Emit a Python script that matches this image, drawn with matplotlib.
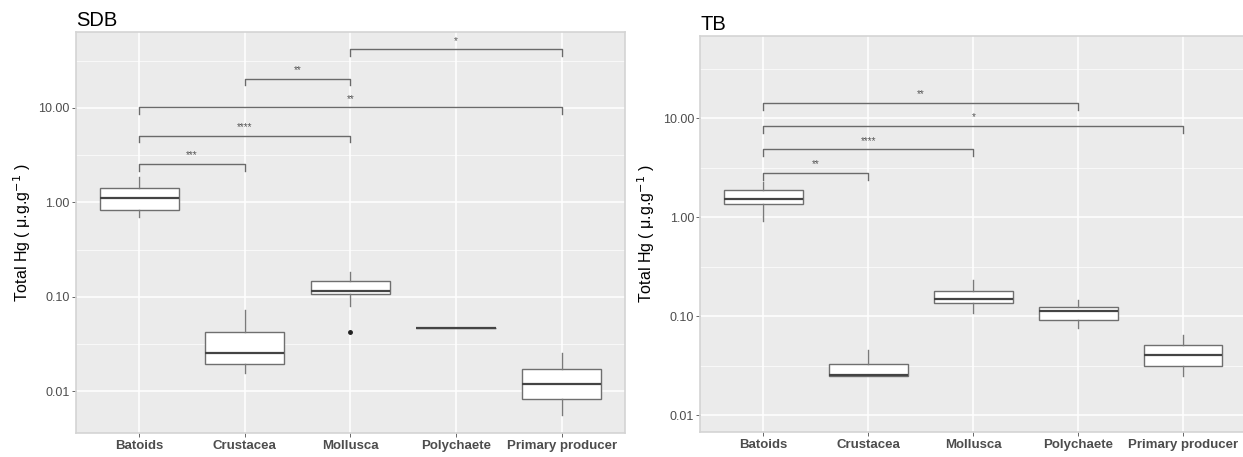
import numpy as np
import matplotlib
matplotlib.use("Agg")
from matplotlib import pyplot as plt
from matplotlib.ticker import FixedLocator, FormatStrFormatter

plt.rcParams['font.family'] = ['Liberation Sans', 'DejaVu Sans']

categories = ["Batoids", "Crustacea", "Mollusca", "Polychaete", "Primary producer"]

# SDB panel, box stats (ug/g)
sdb_whislo = [0.70, 0.0157, 0.080, 0.0466, 0.0056]
sdb_q1 = [0.83, 0.0195, 0.106, 0.0466, 0.0083]
sdb_med = [1.12, 0.0254, 0.114, 0.0466, 0.0120]
sdb_q3 = [1.42, 0.042, 0.147, 0.0466, 0.0172]
sdb_whishi = [1.85, 0.0723, 0.183, 0.0466, 0.0253]
sdb_fliers = [[], [], [0.0426], [], []]
sdb_pairs = [(0, 1), (0, 2), (0, 4), (1, 2), (2, 4)]
sdb_bracket_y = [2.55, 5.09, 10.2, 20.4, 41.9]
sdb_labels = ["***", "****", "**", "**", "*"]

# TB panel
tb_whislo = [0.918, 0.0249, 0.108, 0.0769, 0.0252]
tb_q1 = [1.35, 0.0249, 0.135, 0.0926, 0.0318]
tb_med = [1.545, 0.0253, 0.150, 0.112, 0.0407]
tb_q3 = [1.905, 0.0333, 0.179, 0.124, 0.0518]
tb_whishi = [2.27, 0.0454, 0.235, 0.145, 0.0653]
tb_fliers = [[], [], [], [], []]
tb_pairs = [(0, 1), (0, 2), (0, 4), (0, 3)]
tb_bracket_y = [2.82, 4.87, 8.41, 14.3]
tb_labels = ["**", "****", "*", "**"]

yticks = [0.01, 0.1, 1, 10]


def draw_panel(ax, title, lo, q1, med, q3, hi, fliers, pairs, br_y, br_lab, ylim, xmax):
    ax.set_facecolor('#EBEBEB')
    stats = []
    for i in range(len(categories)):
        stats.append(dict(whislo=lo[i], q1=q1[i], med=med[i], q3=q3[i],
                          whishi=hi[i], fliers=fliers[i]))
    pos = np.arange(1, len(categories) + 1)
    ax.bxp(stats, positions=pos, widths=0.75, showcaps=False, patch_artist=True,
           boxprops=dict(facecolor='white', edgecolor='#6f6f6f', linewidth=1.0),
           whiskerprops=dict(color='#7a7a7a', linewidth=1.0),
           medianprops=dict(color='#444444', linewidth=1.6),
           flierprops=dict(marker='o', markersize=2.5, markerfacecolor='#222222',
                           markeredgecolor='#222222'),
           zorder=3)
    ax.set_yscale('log')
    ax.set_ylim(*ylim)
    ax.set_xlim(0.4, xmax)
    ax.yaxis.set_major_locator(FixedLocator(yticks))
    ax.yaxis.set_major_formatter(FormatStrFormatter('%.2f'))
    ax.yaxis.set_minor_locator(FixedLocator([10 ** (k + 0.5) for k in range(-4, 3)]))
    ax.set_xticks(pos)
    ax.set_xticklabels(categories, fontweight='bold', color='#4D4D4D', fontsize=9.5)
    ax.tick_params(axis='y', labelsize=9, labelcolor='#4D4D4D', color='#4D4D4D',
                   length=3, width=0.6, pad=1.5)
    ax.tick_params(axis='x', color='#4D4D4D', length=3, width=0.6, pad=2)
    ax.tick_params(which='minor', length=0)
    ax.grid(True, which='major', color='white', linewidth=1.1, zorder=0)
    ax.grid(True, which='minor', axis='y', color='white', linewidth=0.5, zorder=0)
    ax.set_axisbelow(True)
    for s in ax.spines.values():
        s.set_color('#D4D4D4')
        s.set_linewidth(1.2)

    # significance brackets
    tip = 10 ** 0.07
    for (a, b), y, lab in zip(pairs, br_y, br_lab):
        xa, xb = pos[a], pos[b]
        ax.plot([xa, xa, xb, xb], [y / tip, y, y, y / tip], color='#6a6a6a',
                linewidth=1.0, zorder=4)
        ax.annotate(lab, xy=((xa + xb) / 2, y), xytext=(0, 2.5), textcoords='offset points',
                    ha='center', va='bottom', fontsize=7, color='#555555')

    ax.set_ylabel('Total Hg ( μ.g.g$^{-1}$ )', fontsize=11.5, color='black', labelpad=4)
    ax.set_title(title, loc='left', fontsize=14.5, pad=4)


fig = plt.figure(figsize=(12.43, 4.57), dpi=100)
ax1 = fig.add_axes([0.0611, 0.0525, 0.4417, 0.8775])
ax2 = fig.add_axes([0.5635, 0.0547, 0.4390, 0.8672])

draw_panel(ax1, "SDB", sdb_whislo, sdb_q1, sdb_med, sdb_q3, sdb_whishi, sdb_fliers,
           sdb_pairs, sdb_bracket_y, sdb_labels, (0.0036, 63.8), 5.6)
draw_panel(ax2, "TB", tb_whislo, tb_q1, tb_med, tb_q3, tb_whishi, tb_fliers,
           tb_pairs, tb_bracket_y, tb_labels, (0.00678, 68.2), 5.6)

fig.savefig("out.png", dpi=100)
